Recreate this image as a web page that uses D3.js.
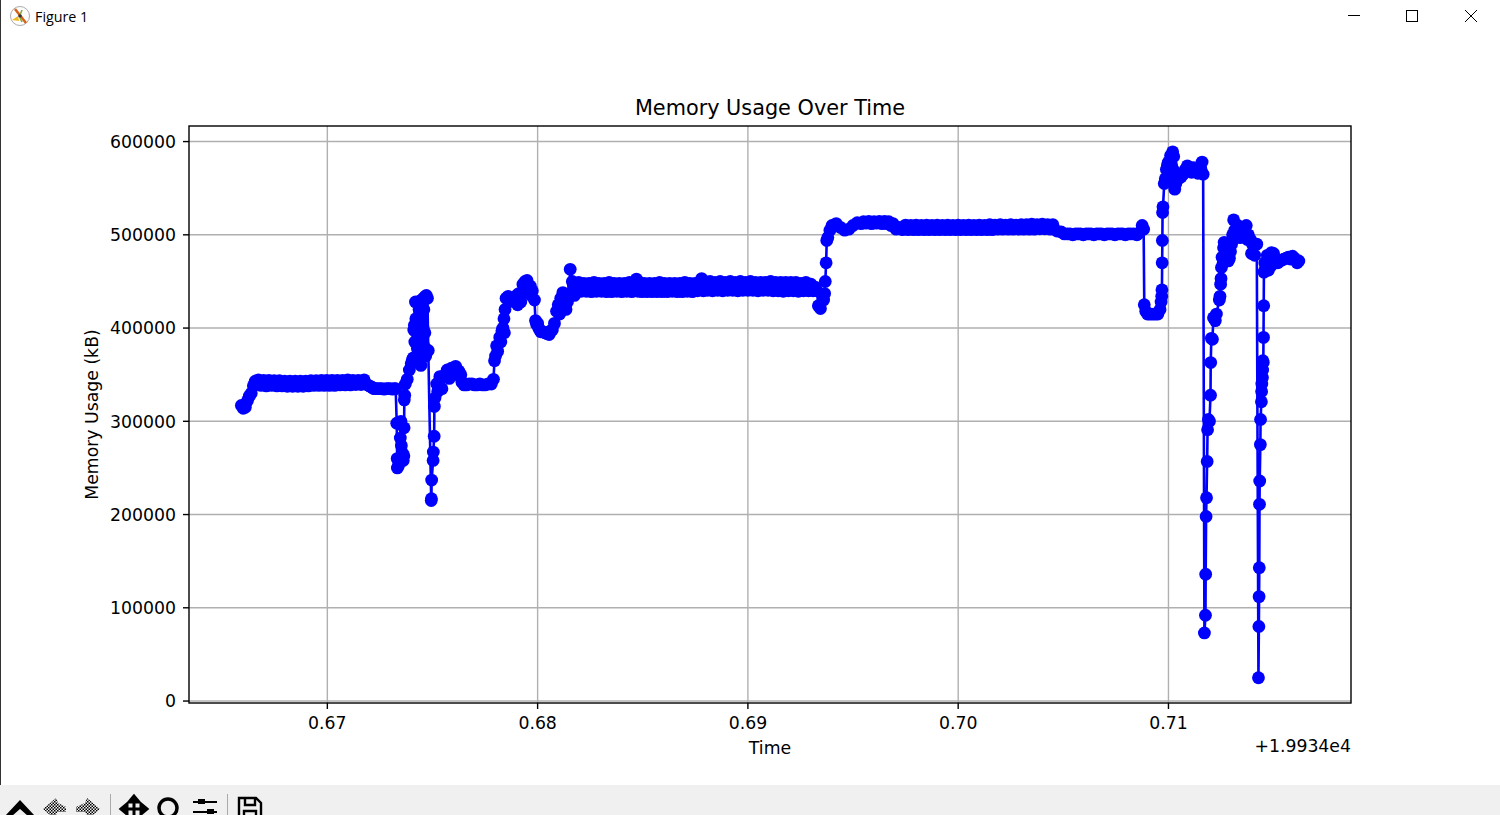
<!DOCTYPE html>
<html>
<head>
<meta charset="utf-8">
<script src="https://cdn.jsdelivr.net/npm/d3@7"></script>
<style>
  html, body { margin: 0; padding: 0; background: #fff; overflow: hidden; }
  svg { display: block; }
  text { font-family: "DejaVu Sans", sans-serif; fill: #000; }
</style>
</head>
<body>
<div id="chart"></div>
<script>
// values, time is offset from 1.9934e4, memory in kB
const times = [
  0.66591, 0.66600, 0.66610, 0.66620, 0.66629, 0.66638, 0.66648, 0.66657, 0.66672,
  0.66697, 0.66722, 0.66747, 0.66772, 0.66797, 0.66822, 0.66847, 0.66872, 0.66897, 0.66922,
  0.66947, 0.66972, 0.66997, 0.67022, 0.67047, 0.67072, 0.67097, 0.67122, 0.67147, 0.67175,
  0.67200, 0.67215, 0.67230, 0.67250, 0.67270, 0.67290, 0.67310, 0.67325,
  0.67330, 0.67332, 0.67333, 0.67338, 0.67342, 0.67347, 0.67350, 0.67352, 0.67357, 0.67361, 0.67364, 0.67365, 0.67366, 0.67368,
  0.67371, 0.67380, 0.67390, 0.67399, 0.67404, 0.67409, 0.67411, 0.67414, 0.67419, 0.67423,
  0.67428, 0.67433, 0.67438, 0.67442, 0.67447, 0.67452, 0.67457, 0.67461, 0.67466, 0.67471, 0.67476, 0.67480,
  0.67494, 0.67495, 0.67496, 0.67503, 0.67504, 0.67508, 0.67509, 0.67512,
  0.67520, 0.67530, 0.67540, 0.67550, 0.67570, 0.67590, 0.67610, 0.67625, 0.67635, 0.67640,
  0.67650, 0.67675, 0.67700, 0.67725, 0.67750, 0.67780, 0.67790, 0.67795, 0.67800, 0.67805,
  0.67810, 0.67820, 0.67830, 0.67840, 0.67845, 0.67850, 0.67860, 0.67880, 0.67900, 0.67910,
  0.67920, 0.67930, 0.67940, 0.67950, 0.67965, 0.67975, 0.67985, 0.67990, 0.67995, 0.68005,
  0.68015, 0.68035, 0.68055, 0.68070, 0.68080, 0.68090, 0.68105, 0.68110, 0.68120, 0.68135,
  0.68150, 0.68155, 0.68165, 0.68175,
  0.68195, 0.68220, 0.68244, 0.68268, 0.68292, 0.68316, 0.68340, 0.68364,
  0.68388, 0.68412, 0.68436, 0.68460, 0.68470, 0.68484, 0.68508, 0.68532,
  0.68556, 0.68580, 0.68604, 0.68628, 0.68652, 0.68676, 0.68700, 0.68724,
  0.68748, 0.68772, 0.68780, 0.68796, 0.68820, 0.68844, 0.68868, 0.68892,
  0.68916, 0.68940, 0.68964, 0.68988, 0.69012, 0.69036, 0.69060, 0.69084,
  0.69108, 0.69132, 0.69156, 0.69180, 0.69204, 0.69228, 0.69252, 0.69276,
  0.69300, 0.69320, 0.69335, 0.69345, 0.69360, 0.69365, 0.69368, 0.69372, 0.69375, 0.69380,
  0.69390, 0.69400, 0.69420, 0.69440, 0.69460, 0.69480, 0.69500, 0.69520,
  0.69550, 0.69575, 0.69600, 0.69625, 0.69650, 0.69670, 0.69690, 0.69720,
  0.69750, 0.69775, 0.69800, 0.69825, 0.69850, 0.69875, 0.69900, 0.69925, 0.69950, 0.69975,
  0.70000, 0.70025, 0.70050, 0.70075, 0.70100, 0.70125, 0.70150, 0.70175, 0.70200, 0.70225,
  0.70250, 0.70275, 0.70300, 0.70325, 0.70350, 0.70375, 0.70400, 0.70425, 0.70450,
  0.70490, 0.70520, 0.70545, 0.70570, 0.70595, 0.70620, 0.70645, 0.70670, 0.70695,
  0.70720, 0.70745, 0.70770, 0.70795, 0.70820, 0.70850,
  0.70860, 0.70875, 0.70882, 0.70885, 0.70892, 0.70900, 0.70920, 0.70940, 0.70960, 0.70965,
  0.70968, 0.70969, 0.70970, 0.70971, 0.70972, 0.70974, 0.70980, 0.70990, 0.71000, 0.71010,
  0.71020, 0.71025, 0.71030, 0.71040, 0.71050, 0.71060, 0.71080, 0.71090, 0.71110, 0.71130,
  0.71150, 0.71160, 0.71165,
  0.71171, 0.71176, 0.71177, 0.71179, 0.71181, 0.71184, 0.71186, 0.71190, 0.71195, 0.71200,
  0.71201, 0.71204, 0.71209, 0.71214, 0.71223, 0.71228, 0.71242, 0.71245, 0.71248, 0.71250,
  0.71255, 0.71260, 0.71262, 0.71265, 0.71270, 0.71280, 0.71290, 0.71300, 0.71310, 0.71315,
  0.71320, 0.71330, 0.71350, 0.71370, 0.71380, 0.71390, 0.71395, 0.71410, 0.71420,
  0.71428, 0.71430, 0.71431, 0.71432, 0.71433, 0.71434, 0.71437, 0.71438, 0.71442, 0.71443,
  0.71444, 0.71447, 0.71448, 0.71449, 0.71451, 0.71452, 0.71453, 0.71454, 0.71462, 0.71470,
  0.71490, 0.71500, 0.71510, 0.71530, 0.71550, 0.71570, 0.71590, 0.71605, 0.71620
];

const memoryKb = [
  317000, 314000, 315000, 322000, 327000, 330000, 338000, 343000, 344500,
  344000, 344000, 343500, 343500, 343000, 343000, 343000, 343000, 343000, 343500,
  343500, 344000, 344000, 344000, 344000, 344000, 344500, 344000, 344000, 344500,
  338000, 336000, 335000, 335000, 334500, 335000, 334500, 335000,
  298000, 260000, 250000, 252000, 256000, 282000, 300000, 274000, 266000, 258000, 263000, 293000, 323000, 328000,
  340000, 345000, 355000, 362000, 366000, 368000, 398000, 403000, 428000, 395000,
  378000, 412000, 370000, 405000, 430000, 375000, 432000, 380000, 434000, 435000, 432000, 376000,
  215000, 217000, 237000, 258000, 267000, 284000, 316000, 325000,
  340000, 342000, 346000, 348000, 355000, 357000, 359000, 354000, 350000, 342000,
  339000, 340000, 339000, 340000, 339000, 340000, 345000, 365000, 370000, 381000,
  375000, 390000, 397000, 410000, 420000, 432000, 434000, 430000, 435000, 437000,
  428000, 447000, 450000, 451000, 445000, 440000, 430000, 408000, 404000, 400000,
  396000, 395000, 393000, 398000, 405000, 418000, 415000, 432000, 438000, 420000,
  437000, 463000, 450000, 435000,
  449000, 448000, 448000, 449000, 448000, 448000, 449000, 448000,
  448000, 448000, 449000, 448000, 452500, 449000, 448000, 448000,
  448000, 449000, 448000, 448000, 448000, 448000, 449000, 448000,
  448000, 449000, 453000, 449000, 450000, 449000, 450000, 449000,
  450000, 449000, 450000, 449000, 450000, 449000, 449000, 449000,
  450000, 449000, 449000, 449000, 449000, 449000, 448000, 449000,
  447000, 444000, 424000, 421000, 430000, 437000, 450000, 470000, 494000, 497000,
  505000, 510000, 512000, 508000, 505000, 506000, 510000, 513000,
  514000, 514500, 514000, 514500, 514500, 514000, 512000, 508000,
  510500, 510000, 510500, 510000, 510500, 510000, 510500, 510000, 510500, 510000,
  510500, 510000, 510500, 510000, 510500, 510000, 511000, 510500, 511000, 510500,
  511000, 510500, 511000, 511000, 511500, 511000, 511500, 511000, 511000,
  503000, 501000, 500000, 501000, 500000, 501000, 500000, 501000, 500000,
  501000, 500000, 501000, 500000, 501000, 500000,
  502000, 510000, 506000, 425000, 418000, 415000, 415000, 415000, 420000, 428000,
  434000, 441000, 470000, 494000, 524000, 530000, 555000, 570000, 578000, 585000,
  589000, 584000, 549000, 558000, 565000, 562000, 570000, 574000, 567000, 570000,
  572000, 578000, 565000,
  73000, 92000, 136000, 198000, 218000, 257000, 291000, 302000, 300000, 328000,
  363000, 389000, 388000, 411000, 408000, 415000, 430000, 434000, 447000, 453000,
  476000, 470000, 486000, 492000, 476000, 485000, 475000, 490000, 516000, 505000,
  500000, 510000, 505000, 510000, 500000, 495000, 480000, 478000, 490000,
  25000, 80000, 112000, 143000, 211000, 236000, 275000, 302000, 321000, 332000,
  340000, 347000, 355000, 365000, 363000, 390000, 424000, 460000, 465000, 478000,
  481000, 480000, 470000, 472000, 474000, 476000, 477000, 473000, 472000
];

// the denser samples that fill the thick stretches, merged in by time below
const denseTimes = [
  0.66685, 0.66710, 0.66735, 0.66760, 0.66785, 0.66810, 0.66835, 0.66860, 0.66885, 0.66910,
  0.66935, 0.66960, 0.66985, 0.67010, 0.67035, 0.67060, 0.67085, 0.67110, 0.67135, 0.67160,
  0.67188, 0.67208, 0.67222, 0.67240, 0.67260, 0.67280, 0.67300, 0.67318,
  0.67416, 0.67421, 0.67426, 0.67431, 0.67436, 0.67440, 0.67445, 0.67450, 0.67455, 0.67459, 0.67464, 0.67468,
  0.67525, 0.67535, 0.67545, 0.67560, 0.67580, 0.67600, 0.67618,
  0.67662, 0.67688, 0.67712, 0.67737, 0.67765, 0.67825, 0.67835, 0.67842,
  0.67870, 0.67890, 0.67905, 0.67925, 0.67935, 0.67945, 0.67958, 0.67970, 0.68000, 0.68010,
  0.68025, 0.68045, 0.68062, 0.68098, 0.68115, 0.68128, 0.68142, 0.68170, 0.68182, 0.68190,
  0.68207, 0.68232, 0.68256, 0.68280, 0.68304, 0.68328, 0.68352, 0.68376, 0.68400, 0.68424,
  0.68448, 0.68477, 0.68496, 0.68520, 0.68544, 0.68568, 0.68592, 0.68616, 0.68640, 0.68664,
  0.68688, 0.68712, 0.68736, 0.68760, 0.68788, 0.68808, 0.68832, 0.68856, 0.68880, 0.68904,
  0.68928, 0.68952, 0.68976, 0.69000, 0.69024, 0.69048, 0.69072, 0.69096, 0.69120, 0.69144,
  0.69168, 0.69192, 0.69216, 0.69240, 0.69264, 0.69288, 0.69310, 0.69328,
  0.69538, 0.69562, 0.69588, 0.69612, 0.69638, 0.69660, 0.69680, 0.69705,
  0.69735, 0.69762, 0.69788, 0.69812, 0.69838, 0.69862, 0.69888, 0.69912, 0.69938, 0.69962,
  0.69988, 0.70012, 0.70038, 0.70062, 0.70088, 0.70112, 0.70138, 0.70162, 0.70188, 0.70212,
  0.70238, 0.70262, 0.70288, 0.70312, 0.70338, 0.70362, 0.70388, 0.70412, 0.70438, 0.70470,
  0.70505, 0.70532, 0.70558, 0.70582, 0.70608, 0.70632, 0.70658, 0.70682, 0.70708, 0.70732,
  0.70758, 0.70782, 0.70808, 0.70835,
  0.70910, 0.70930, 0.70950, 0.70985, 0.70995, 0.71005, 0.71015, 0.71022, 0.71035, 0.71070,
  0.71100, 0.71120, 0.71140, 0.71155,
  0.71252, 0.71275, 0.71285, 0.71295, 0.71305, 0.71340, 0.71360, 0.71375, 0.71400,
  0.71458, 0.71475, 0.71480, 0.71485, 0.71495, 0.71505, 0.71520, 0.71540, 0.71560, 0.71580, 0.71598, 0.71612
];

const denseKb = [
  338500, 338000, 338500, 338000, 338000, 337500, 337500, 337500, 337500, 338000,
  338500, 338500, 338500, 338500, 338500, 339000, 339000, 339000, 339500, 339500,
  339500, 337000, 335000, 335000, 335000, 335000, 335000, 335000,
  385000, 410000, 365000, 395000, 420000, 388000, 360000, 415000, 400000, 420000, 395000, 370000,
  332000, 348000, 335000, 350000, 346000, 352000, 350000,
  339000, 340000, 339000, 339000, 340000, 385000, 400000, 395000,
  432000, 428000, 425000, 437000, 440000, 441000, 440000, 435000, 405000, 398000,
  396000, 394000, 397000, 425000, 425000, 430000, 428000, 445000, 440000, 440000,
  439500, 439500, 439000, 439500, 439500, 439000, 439000, 439500, 439000, 439500,
  439000, 439500, 439000, 439000, 439000, 439000, 439000, 439000, 439500, 439000,
  439000, 439500, 439000, 440000, 440000, 440500, 440000, 440500, 440000, 440500,
  440500, 440000, 440500, 440500, 440500, 440000, 440500, 440500, 440000, 440000,
  439500, 440000, 440000, 439500, 440000, 440000, 440000, 440000,
  512000, 512500, 512000, 512500, 512000, 512000, 510000, 506000,
  505500, 505500, 505500, 505500, 505500, 505500, 505500, 505500, 505500, 505500,
  505500, 505500, 505500, 505500, 505500, 505500, 505500, 505500, 506000, 506000,
  506000, 506000, 506000, 506000, 506000, 506000, 506500, 506500, 506000, 504000,
  501000, 501000, 501000, 501000, 501000, 501000, 501000, 501000, 501000, 501000,
  501000, 501000, 501000, 501000,
  415000, 415000, 415000, 560000, 575000, 565000, 575000, 570000, 555000, 565000,
  572000, 572000, 566000, 570000,
  465000, 490000, 472000, 482000, 500000, 497000, 500000, 495000, 490000,
  470000, 462000, 470000, 466000, 475000, 470000, 470000, 473000, 475000, 474000, 475000, 470000
];

const xTicks = [0.67, 0.68, 0.69, 0.70, 0.71];
const yTicks = [0, 100000, 200000, 300000, 400000, 500000, 600000];

const title = "Memory Usage Over Time";
const xLabel = "Time";
const yLabel = "Memory Usage (kB)";
const xOffsetText = "+1.9934e4";

const W = 1500, H = 815;
const box = { left: 189, right: 1351, top: 126, bottom: 703 };

const svg = d3.select("#chart").append("svg").attr("width", W).attr("height", H);
svg.append("rect").attr("width", W).attr("height", H).attr("fill", "#fff");

const defs = svg.append("defs");
const checker = defs.append("pattern").attr("id", "checker")
  .attr("width", 3).attr("height", 3).attr("patternUnits", "userSpaceOnUse");
checker.append("rect").attr("width", 3).attr("height", 3).attr("fill", "#f0f0f0");
checker.append("rect").attr("width", 1.5).attr("height", 1.5).attr("fill", "#000");
checker.append("rect").attr("x", 1.5).attr("y", 1.5).attr("width", 1.5).attr("height", 1.5).attr("fill", "#000");

const xScale = d3.scaleLinear().domain([0.66344, 0.71870]).range([box.left + 0.4, box.right + 0.4]);
const yScale = d3.scaleLinear().domain([-2100, 616700]).range([box.bottom, box.top]);

// grid
svg.append("g")
  .attr("transform", `translate(0,${box.bottom})`)
  .call(d3.axisBottom(xScale).offset(0).tickValues(xTicks).tickSize(-(box.bottom - box.top)).tickFormat(""))
  .call(g => g.select(".domain").remove())
  .selectAll("line").attr("stroke", "#b0b0b0").attr("stroke-width", 1.4);

svg.append("g")
  .attr("transform", `translate(${box.left},0)`)
  .call(d3.axisLeft(yScale).offset(0).tickValues(yTicks).tickSize(-(box.right - box.left)).tickFormat(""))
  .call(g => g.select(".domain").remove())
  .selectAll("line").attr("stroke", "#b0b0b0").attr("stroke-width", 1.4);

// series
const points = d3.zip(times.concat(denseTimes), memoryKb.concat(denseKb))
  .sort((a, b) => d3.ascending(a[0], b[0]));
const line = d3.line().x(d => xScale(d[0])).y(d => yScale(d[1]));

svg.append("path")
  .datum(points)
  .attr("d", line)
  .attr("fill", "none")
  .attr("stroke", "#0000ff")
  .attr("stroke-width", 2.6)
  .attr("stroke-linejoin", "round");

svg.append("g").selectAll("circle")
  .data(points)
  .join("circle")
  .attr("cx", d => xScale(d[0]))
  .attr("cy", d => yScale(d[1]))
  .attr("r", 6.4)
  .attr("fill", "#0000ff");

// spines
svg.append("rect")
  .attr("x", box.left).attr("y", box.top)
  .attr("width", box.right - box.left).attr("height", box.bottom - box.top)
  .attr("fill", "none").attr("stroke", "#000").attr("stroke-width", 1.4);

// axes
const xAxis = svg.append("g")
  .attr("transform", `translate(0,${box.bottom})`)
  .call(d3.axisBottom(xScale).offset(0).tickValues(xTicks).tickSize(6).tickPadding(7.5).tickFormat(d3.format(".2f")));
const yAxis = svg.append("g")
  .attr("transform", `translate(${box.left},0)`)
  .call(d3.axisLeft(yScale).offset(0).tickValues(yTicks).tickSize(6).tickPadding(7).tickFormat(d3.format("d")));

[xAxis, yAxis].forEach(a => {
  a.select(".domain").remove();
  a.selectAll("line").attr("stroke", "#000").attr("stroke-width", 1.4);
  a.selectAll("text").attr("font-family", "DejaVu Sans").attr("font-size", 17.3).attr("fill", "#000");
});
yAxis.selectAll("text").attr("dy", "0.36em");

// titles
svg.append("text").attr("x", (box.left + box.right) / 2).attr("y", 115)
  .attr("text-anchor", "middle").attr("font-size", 20.8).text(title);
svg.append("text").attr("x", (box.left + box.right) / 2).attr("y", 754)
  .attr("text-anchor", "middle").attr("font-size", 17.3).text(xLabel);
svg.append("text").attr("transform", `translate(98,${(box.top + box.bottom) / 2}) rotate(-90)`)
  .attr("text-anchor", "middle").attr("font-size", 17.3).text(yLabel);
svg.append("text").attr("x", box.right).attr("y", 752)
  .attr("text-anchor", "end").attr("font-size", 17.3).text(xOffsetText);

// window title bar
svg.append("rect").attr("width", 1).attr("height", H).attr("fill", "#333");
svg.append("text").attr("x", 35).attr("y", 22).attr("font-size", 14.3)
  .style("font-family", "'Open Sans', sans-serif").text("Figure 1");

const icon = svg.append("g").attr("transform", "translate(20,16)");
icon.append("circle").attr("r", 9.5).attr("fill", "#fff").attr("stroke", "#aaa");
icon.append("path").attr("d", "M-5,-7L6,7").attr("stroke", "#d9601a").attr("stroke-width", 2.6);
icon.append("path").attr("d", "M-8,4L-2,0L-1,5Z").attr("fill", "#f0b820");
icon.append("path").attr("d", "M2,-6L0,-1M0,2L2,6").attr("stroke", "#7fb040").attr("stroke-width", 1.6);
icon.append("circle").attr("r", 1.8).attr("fill", "#333");

svg.append("path").attr("d", "M1348,15.5H1360").attr("stroke", "#000");
svg.append("rect").attr("x", 1406.5).attr("y", 10.5).attr("width", 11).attr("height", 11)
  .attr("fill", "none").attr("stroke", "#000");
svg.append("path").attr("d", "M1465,10L1477,22M1477,10L1465,22").attr("stroke", "#000");

// toolbar, icons run off the bottom edge as in the screenshot
svg.append("rect").attr("y", 785).attr("width", W).attr("height", 30).attr("fill", "#f0f0f0");
const tools = svg.append("g");
tools.append("path").attr("d", "M7,815L20,801L33,815L28,815L20,808L12,815Z").attr("fill", "#000").attr("stroke", "#000").attr("stroke-width", 1.5);
tools.append("path").attr("d", "M43,809L56,798L58,803L66,807L66,812L58,812L56,815L50,815Z").attr("fill", "url(#checker)");
tools.append("path").attr("d", "M100,809L87,798L85,803L76,807L76,812L85,812L87,815L93,815Z").attr("fill", "url(#checker)");
tools.append("path").attr("d", "M110.5,794V815M227.5,794V815").attr("stroke", "#aaa");
tools.append("path").attr("d", "M134,798V815M122,809H146M134,796l-5,6h10zM121,809l6,-5v10zM147,809l-6,-5v10z")
  .attr("stroke", "#000").attr("stroke-width", 3).attr("fill", "#000");
tools.append("circle").attr("cx", 168).attr("cy", 808).attr("r", 9)
  .attr("fill", "none").attr("stroke", "#000").attr("stroke-width", 3.5);
tools.append("path").attr("d", "M193,802H217M193,812H217").attr("stroke", "#000").attr("stroke-width", 2);
tools.append("rect").attr("x", 198).attr("y", 799).attr("width", 7).attr("height", 5).attr("fill", "#000");
tools.append("rect").attr("x", 207).attr("y", 809).attr("width", 7).attr("height", 5).attr("fill", "#000");
tools.append("path").attr("d", "M239,816V798H256L261,803V816M245,798V805H255V798M244,816V811H256V816")
  .attr("fill", "none").attr("stroke", "#000").attr("stroke-width", 2.4);
</script>
</body>
</html>
